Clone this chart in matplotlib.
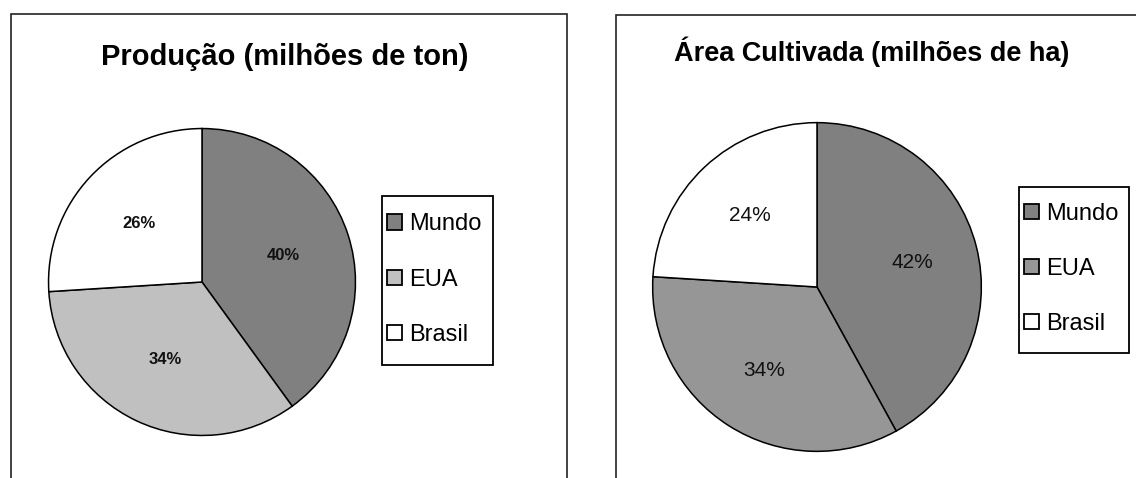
import matplotlib
matplotlib.use("Agg")
import matplotlib.pyplot as plt
from matplotlib.patches import Rectangle

plt.rcParams['font.family'] = ['Liberation Sans', 'DejaVu Sans']

categories = ["Mundo", "EUA", "Brasil"]
prod_values = [40, 34, 26]
area_values = [42, 34, 24]
prod_title = "Produção (milhões de ton)"
area_title = "Área Cultivada (milhões de ha)"
prod_colors = ["#808080", "#c0c0c0", "#ffffff"]
area_colors = ["#808080", "#969696", "#ffffff"]

W, H = 1136, 478
fig = plt.figure(figsize=(W / 100, H / 100), dpi=100)
fig.patch.set_facecolor("white")


def fx(px):
    return px / W


def fy(py):
    return 1 - py / H


def box(x0, y0, x1, y1, lw=1.2, color="#222222"):
    fig.add_artist(Rectangle((fx(x0), fy(y1)), fx(x1) - fx(x0), fy(y0) - fy(y1),
                             transform=fig.transFigure, fill=False,
                             edgecolor=color, lw=lw))


# panel borders
box(11, 14, 567, 490)
box(616, 15, 1150, 490)


def make_pie(cx, cy, r, values, colors, pctsize, pctweight, pctdist, title, tx, ty, tsize,
             lb):
    ax = fig.add_axes([fx(cx - r), fy(cy + r), fx(2 * r), fy(cy - r) - fy(cy + r)])
    wedges, texts, autotexts = ax.pie(
        values, colors=colors, startangle=90, counterclock=False,
        autopct=lambda p: f"{p:.0f}%", pctdistance=pctdist,
        wedgeprops=dict(edgecolor="black", linewidth=1.1),
        textprops=dict(fontsize=pctsize, fontweight=pctweight, color="#111111"),
        radius=1.0)
    ax.set_xlim(-1.01, 1.01)
    ax.set_ylim(-1.01, 1.01)
    ax.set_aspect("equal")
    ax.axis("off")
    fig.text(fx(tx), fy(ty), title, ha="center", va="center", fontsize=tsize,
             fontweight="bold", color="black")
    x0, y0, x1, y1 = lb
    leg = ax.legend(wedges, categories, loc="center left",
                    bbox_to_anchor=(fx(x0 + 5), fy((y0 + y1) / 2 - 1)),
                    bbox_transform=fig.transFigure, borderaxespad=0,
                    fontsize=17, frameon=False,
                    handlelength=0.62, handleheight=0.62, handletextpad=0.3,
                    labelspacing=1.4, borderpad=0)
    for h in leg.legend_handles:
        h.set_edgecolor("black")
        h.set_linewidth(1.3)
    box(x0, y0, x1, y1, lw=1.3, color="black")
    return ax


make_pie(202, 282, 155, prod_values, prod_colors, 12, "bold", 0.56,
         prod_title, 285, 57, 21, (382, 196, 493, 365))
make_pie(817, 287, 166, area_values, area_colors, 15, "normal", 0.6,
         area_title, 872, 52, 19.5, (1019, 187, 1129, 353))

fig.savefig("out.png", dpi=100, facecolor="white")
